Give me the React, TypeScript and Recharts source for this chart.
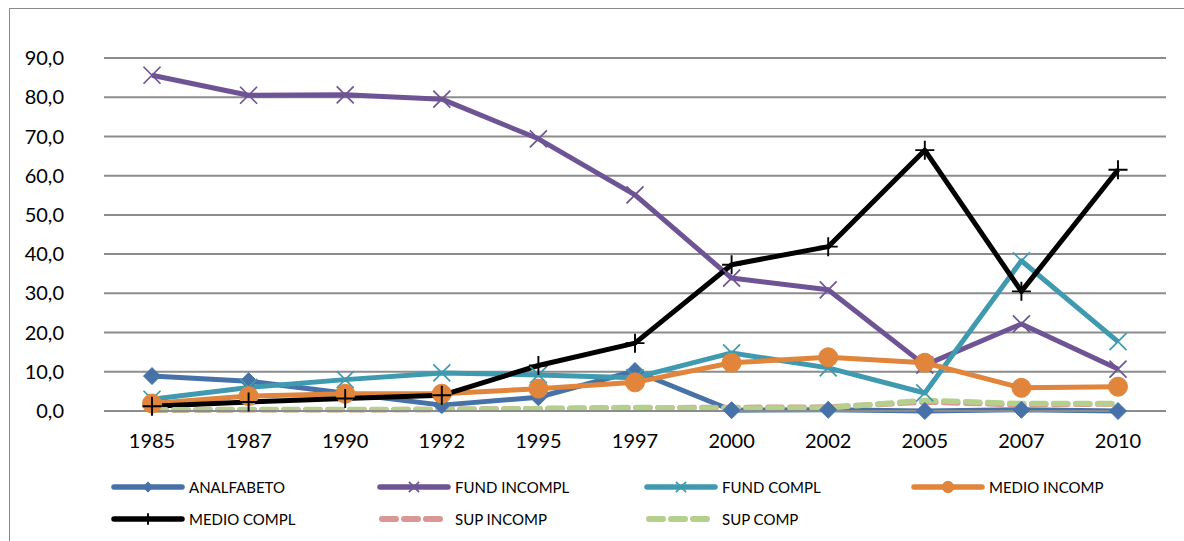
import React from 'react';
import { LineChart, Line, XAxis, YAxis, CartesianGrid } from 'recharts';

const years = ['1985', '1987', '1990', '1992', '1995', '1997', '2000', '2002', '2005', '2007', '2010'];
const analfabeto = [8.9, 7.6, 4.5, 1.5, 3.5, 10.2, 0.2, 0.3, 0.0, 0.3, 0.0];
const fundIncompl = [85.6, 80.5, 80.6, 79.5, 69.4, 55.1, 33.9, 30.9, 11.7, 22.2, 10.7];
const fundCompl = [3.0, 6.0, 8.0, 9.7, 9.2, 8.5, 14.8, 11.0, 4.6, 38.3, 17.7];
const medioIncomp = [1.9, 3.8, 4.4, 4.4, 5.7, 7.3, 12.3, 13.7, 12.3, 5.9, 6.2];
const medioCompl = [1.2, 2.3, 3.2, 4.0, 11.6, 17.3, 37.3, 41.9, 66.5, 30.5, 61.5];
const supIncomp = [0.2, 0.3, 0.3, 0.4, 0.6, 0.8, 0.9, 1.0, 2.3, 1.6, 1.8];
const supComp = [0.3, 0.4, 0.4, 0.4, 0.6, 0.9, 0.7, 0.8, 2.7, 1.9, 1.9];
const yTicks = [0, 10, 20, 30, 40, 50, 60, 70, 80, 90];

const seriesNames = ['ANALFABETO', 'FUND INCOMPL', 'FUND COMPL', 'MEDIO INCOMP', 'MEDIO COMPL', 'SUP INCOMP', 'SUP COMP'];
const seriesKeys = ['analfabeto', 'fundIncompl', 'fundCompl', 'medioIncomp', 'medioCompl', 'supIncomp', 'supComp'];
const seriesColors = ['#4672a8', '#6e5494', '#3f9ab0', '#e0853b', '#000000', '#d99795', '#b5cf8d'];
const seriesMarkers = ['diamond', 'x', 'x', 'circle', 'plus', 'none', 'none'];

const data = years.map((y, i) => ({
  year: y,
  analfabeto: analfabeto[i],
  fundIncompl: fundIncompl[i],
  fundCompl: fundCompl[i],
  medioIncomp: medioIncomp[i],
  medioCompl: medioCompl[i],
  supIncomp: supIncomp[i],
  supComp: supComp[i],
}));

function Marker({ kind, cx, cy, color, scale = 1 }: { kind: string; cx: number; cy: number; color: string; scale?: number }) {
  if (kind === 'diamond') {
    const s = 8.5 * scale;
    return <path d={`M${cx},${cy - s} L${cx + s},${cy} L${cx},${cy + s} L${cx - s},${cy} Z`} fill={color} stroke={color} strokeWidth={1} />;
  }
  if (kind === 'x') {
    const s = 8.5 * scale;
    return (
      <path d={`M${cx - s},${cy - s} L${cx + s},${cy + s} M${cx - s},${cy + s} L${cx + s},${cy - s}`} stroke={color} strokeWidth={1.7} fill="none" />
    );
  }
  if (kind === 'circle') {
    return <circle cx={cx} cy={cy} r={9.5 * scale} fill={color} stroke={color} strokeWidth={1} />;
  }
  if (kind === 'plus') {
    const s = 9.5 * scale;
    return <path d={`M${cx - s},${cy} L${cx + s},${cy} M${cx},${cy - s} L${cx},${cy + s}`} stroke={color} strokeWidth={1.9} fill="none" />;
  }
  return null;
}

const makeDot = (kind: string, color: string) => (p: any) => {
  if (kind === 'none' || p.cx == null || p.cy == null) return <g key={p.index} />;
  return (
    <g key={p.index}>
      <Marker kind={kind} cx={p.cx} cy={p.cy} color={color} />
    </g>
  );
};

const fmt = (v: number) => v.toFixed(1).replace('.', ',');

const legendCols = [114, 380, 647, 914];
const legendRows = [487, 519];

function LegendItem({ idx }: { idx: number }) {
  const col = idx % 4;
  const row = Math.floor(idx / 4);
  const x = legendCols[col];
  const y = legendRows[row];
  const color = seriesColors[idx];
  const dashed = seriesMarkers[idx] === 'none';
  return (
    <div style={{ position: 'absolute', left: x - 4, top: y - 12, height: 24, display: 'flex', alignItems: 'center' }}>
      <svg width={80} height={24}>
        {dashed ? (
          <line x1={6} y1={12} x2={64} y2={12} stroke={color} strokeWidth={6} strokeDasharray="14 8" strokeLinecap="round" />
        ) : (
          <line x1={4} y1={12} x2={72} y2={12} stroke={color} strokeWidth={5.5} strokeLinecap="round" />
        )}
        <Marker kind={seriesMarkers[idx]} cx={38} cy={12} color={color} scale={0.6} />
      </svg>
      <span
        style={{
          position: 'absolute',
          left: 79,
          top: 2,
          fontFamily: 'Lato, "Open Sans", sans-serif',
          fontSize: 15,
          color: '#000',
          whiteSpace: 'nowrap',
          lineHeight: '20px',
        }}
      >
        {seriesNames[idx]}
      </span>
    </div>
  );
}

export default function App() {
  return (
    <div style={{ position: 'fixed', left: 0, top: 0, width: 1184, height: 541, overflow: 'hidden', background: '#fff' }}>
      <div style={{ position: 'absolute', left: 9, top: 8, width: 1300, height: 700, border: '1.5px solid #8a8a8a' }} />
      <div style={{ position: 'absolute', left: 0, top: 0 }}>
        <LineChart width={1184} height={541} data={data} margin={{ top: 58, right: 18, left: 44, bottom: 100 }}>
          <CartesianGrid vertical={false} stroke="#8c8c8c" strokeWidth={2} />
          <XAxis
            dataKey="year"
            padding={{ left: 48, right: 48 }}
            axisLine={{ stroke: '#8c8c8c', strokeWidth: 2 }}
            tickLine={false}
            tickSize={0}
            tickMargin={23}
            height={30}
            interval={0}
            tick={{ fill: '#000', fontSize: 20, fontFamily: 'Lato, "Open Sans", sans-serif' }}
          />
          <YAxis
            domain={[0, 90]}
            ticks={yTicks}
            axisLine={false}
            tickLine={false}
            tickSize={0}
            tickMargin={40}
            width={60}
            tickFormatter={fmt}
            tick={{ fill: '#000', fontSize: 20, fontFamily: 'Lato, "Open Sans", sans-serif' }}
          />
          {seriesKeys.map((k, i) => (
            <Line
              key={k}
              type="linear"
              dataKey={k}
              name={seriesNames[i]}
              stroke={seriesColors[i]}
              strokeWidth={seriesMarkers[i] === 'none' ? 5.5 : 5}
              strokeDasharray={seriesMarkers[i] === 'none' ? '14 8' : undefined}
              strokeLinecap={seriesMarkers[i] === 'none' ? 'round' : 'butt'}
              strokeLinejoin="round"
              dot={makeDot(seriesMarkers[i], seriesColors[i])}
              activeDot={false}
              isAnimationActive={false}
            />
          ))}
        </LineChart>
      </div>
      {seriesNames.map((_, i) => (
        <LegendItem key={i} idx={i} />
      ))}
    </div>
  );
}
